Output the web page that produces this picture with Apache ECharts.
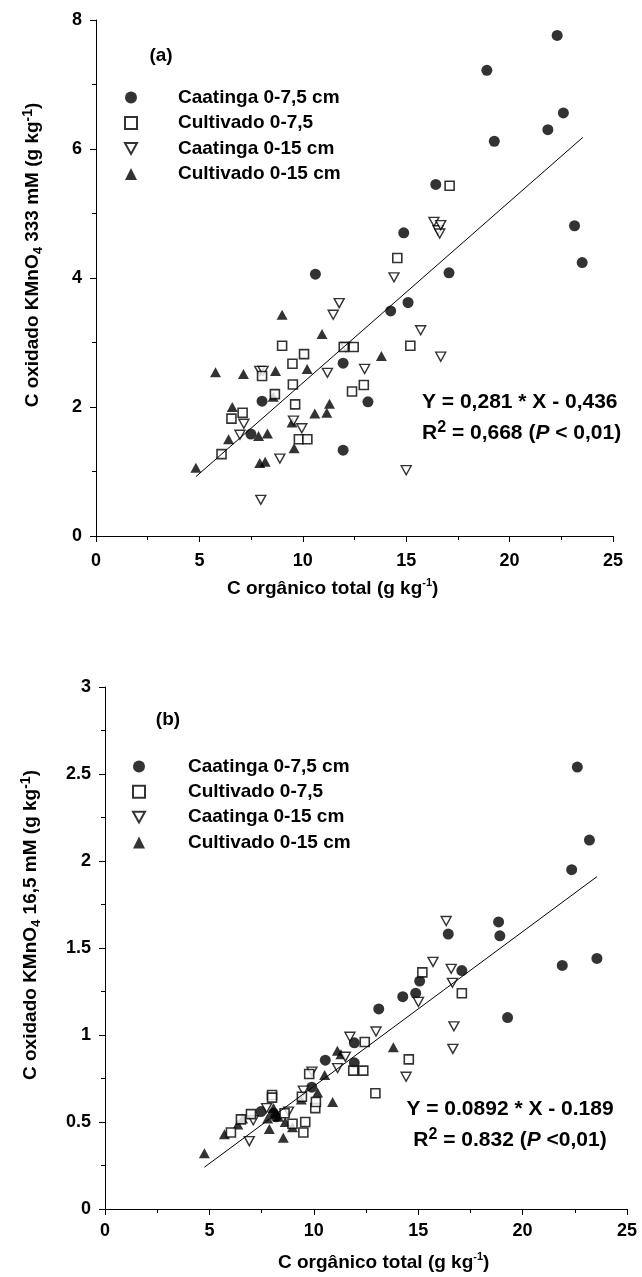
<!DOCTYPE html>
<html>
<head>
<meta charset="utf-8">
<script src="https://cdn.jsdelivr.net/npm/echarts/dist/echarts.min.js"></script>
<style>
  html, body { margin: 0; padding: 0; background: #fff; }
  #main { width: 642px; height: 1277px; }
</style>
</head>
<body>
<div id="main"></div>
<script>
const FONT = '"Liberation Sans", Arial, sans-serif'

const seriesNames = ['Caatinga 0-7,5 cm', 'Cultivado 0-7,5', 'Caatinga 0-15 cm', 'Cultivado 0-15 cm']

// (a) KMnO4 333 mM  -  [C orgânico, C oxidado]
const caatinga75A = [[7.49, 1.58], [8.03, 2.09], [10.61, 4.06], [11.95, 2.68], [11.95, 1.33], [13.15, 2.08],
  [14.25, 3.49], [14.88, 4.70], [15.09, 3.62], [16.43, 5.45], [17.07, 4.08], [18.9, 7.22], [19.26, 6.12],
  [21.85, 6.30], [22.3, 7.76], [22.6, 6.56], [23.14, 4.81], [23.51, 4.24]]
const cultivado75A = [[6.07, 1.27], [6.55, 1.82], [7.09, 1.91], [8.03, 2.48], [8.65, 2.20], [9.0, 2.95],
  [9.50, 2.67], [9.52, 2.35], [9.63, 2.04], [10.06, 2.82], [9.81, 1.50], [10.22, 1.50], [11.98, 2.93],
  [12.46, 2.93], [12.38, 2.24], [12.95, 2.34], [14.57, 4.31], [15.2, 2.95], [17.1, 5.43]]
const caatinga15A = [[6.96, 1.57], [7.15, 1.74], [7.92, 2.56], [8.08, 2.56], [7.97, 0.56], [8.89, 1.20],
  [9.55, 1.79], [9.95, 1.67], [11.19, 2.53], [11.47, 3.43], [11.76, 3.61], [12.08, 2.93], [12.99, 2.59],
  [14.41, 4.01], [15.0, 1.02], [15.70, 3.19], [16.34, 4.87], [16.54, 4.74], [16.62, 4.69], [16.67, 4.82],
  [16.67, 2.78]]
const cultivado15A = [[4.83, 1.06], [5.78, 2.54], [6.41, 1.50], [6.59, 2.00], [7.13, 2.51], [7.86, 1.55],
  [7.92, 1.13], [8.18, 1.15], [8.29, 1.59], [8.57, 2.16], [8.68, 2.56], [9.0, 3.43], [9.48, 1.76],
  [9.58, 1.36], [10.21, 2.59], [10.58, 1.90], [10.93, 3.13], [11.16, 1.91], [11.29, 2.05], [13.8, 2.79]]
const fitA = [[4.83, 0.92], [23.54, 6.18]]

// (b) KMnO4 16,5 mM
const caatinga75B = [[7.47, 0.56], [8.07, 0.55], [8.19, 0.53], [9.9, 0.70], [10.55, 0.855], [11.94, 0.84],
  [11.94, 0.955], [13.11, 1.15], [14.26, 1.22], [14.88, 1.24], [15.07, 1.31], [16.44, 1.58], [17.09, 1.37],
  [18.85, 1.65], [18.91, 1.57], [19.28, 1.10], [21.9, 1.40], [22.35, 1.95], [22.62, 2.54], [23.2, 2.12],
  [23.56, 1.44]]
const cultivado75B = [[6.03, 0.44], [6.51, 0.515], [6.99, 0.545], [8.0, 0.655], [8.0, 0.64], [8.6, 0.55],
  [8.98, 0.49], [9.43, 0.645], [9.5, 0.44], [9.59, 0.50], [9.78, 0.776], [10.07, 0.58], [10.1, 0.615],
  [11.89, 0.795], [12.37, 0.795], [12.44, 0.96], [12.95, 0.665], [14.55, 0.86], [15.2, 1.36], [17.09, 1.24]]
const caatinga15B = [[6.91, 0.39], [7.10, 0.51], [7.74, 0.58], [8.79, 0.56], [9.5, 0.68], [9.91, 0.79],
  [11.14, 0.81], [11.51, 0.875], [11.73, 0.99], [12.98, 1.02], [14.42, 0.76], [15.01, 1.19], [15.71, 1.42],
  [16.34, 1.655], [16.58, 1.38], [16.64, 1.30], [16.66, 0.92], [16.71, 1.05]]
const cultivado15B = [[4.76, 0.32], [5.72, 0.43], [6.36, 0.485], [6.59, 0.52], [7.79, 0.52], [7.87, 0.46],
  [8.07, 0.58], [8.3, 0.53], [8.54, 0.41], [8.63, 0.50], [8.98, 0.47], [9.4, 0.63], [10.18, 0.67],
  [10.52, 0.77], [10.9, 0.615], [11.13, 0.91], [11.3, 0.89], [13.81, 0.93]]
const fitB = [[4.76, 0.24], [23.56, 1.91]]

const xTicks = [0, 5, 10, 15, 20, 25]
const xTickLabels = ['0', '5', '10', '15', '20', '25']
const yTicksA = [0, 2, 4, 6, 8]
const yTickLabelsA = ['0', '2', '4', '6', '8']
const yTicksB = [0, 0.5, 1, 1.5, 2, 2.5, 3]
const yTickLabelsB = ['0', '0.5', '1', '1.5', '2', '2.5', '3']

const invTriangle = 'path://M0,0L10,0L5,9Z'

function valueAxis(gridIndex, ticks, labels, margin) {
  return {
    type: 'value',
    gridIndex: gridIndex,
    min: ticks[0],
    max: ticks[ticks.length - 1],
    interval: ticks[1] - ticks[0],
    axisLine: { show: true, lineStyle: { color: '#000', width: 1 } },
    axisTick: { show: true, length: 6, lineStyle: { color: '#000' } },
    minorTick: { show: true, splitNumber: 2, length: 4, lineStyle: { color: '#000' } },
    splitLine: { show: false },
    axisLabel: {
      color: '#000', fontFamily: FONT, fontWeight: 'bold', fontSize: 18, margin: margin,
      formatter: function (v) {
        const i = ticks.findIndex(t => Math.abs(t - v) < 1e-9)
        return i >= 0 ? labels[i] : ''
      }
    }
  }
}

function scatterSet(idx, c75, v75, c15, v15, fit) {
  return [
    { name: seriesNames[0], type: 'scatter', xAxisIndex: idx, yAxisIndex: idx, data: c75,
      symbol: 'circle', symbolSize: 11, itemStyle: { color: '#000' } },
    { name: seriesNames[3], type: 'scatter', xAxisIndex: idx, yAxisIndex: idx, data: v15,
      symbol: 'triangle', symbolSize: [11, 10], itemStyle: { color: '#000' } },
    { name: seriesNames[2], type: 'scatter', xAxisIndex: idx, yAxisIndex: idx, data: c15,
      symbol: invTriangle, symbolSize: [10, 9], itemStyle: { color: '#fff', borderColor: '#000', borderWidth: 1.4 } },
    { name: seriesNames[1], type: 'scatter', xAxisIndex: idx, yAxisIndex: idx, data: v75,
      symbol: 'rect', symbolSize: 9, itemStyle: { color: '#fff', borderColor: '#000', borderWidth: 1.6 } },
    { name: 'fit', type: 'line', xAxisIndex: idx, yAxisIndex: idx, data: fit, showSymbol: false,
      lineStyle: { color: '#000', width: 1 } }
  ]
}

function legendBlock(left, top, gap, pad) {
  return {
    orient: 'vertical', left: left, top: top, padding: 0, itemGap: gap,
    itemWidth: 12, itemHeight: 12, selectedMode: false,
    data: [seriesNames[0], seriesNames[1], seriesNames[2], seriesNames[3]],
    textStyle: { color: '#000', fontFamily: FONT, fontWeight: 'bold', fontSize: 19, lineHeight: 19,
      padding: [0, 0, 0, pad] }
  }
}

const base = { fontFamily: FONT, fontWeight: 'bold', fill: '#000' }
const richTitle = {
  a: { fontFamily: FONT, fontWeight: 'bold', fontSize: 19, lineHeight: 24 },
  sub: { fontFamily: FONT, fontWeight: 'bold', fontSize: 13, lineHeight: 13, verticalAlign: 'bottom' },
  sup: { fontFamily: FONT, fontWeight: 'bold', fontSize: 14, lineHeight: 14, verticalAlign: 'top' },
  s: { fontFamily: FONT, fontWeight: 'bold', fontSize: 11, lineHeight: 11, verticalAlign: 'top' }
}
const richEq = {
  a: { fontFamily: FONT, fontWeight: 'bold', fontSize: 21, lineHeight: 26 },
  sup: { fontFamily: FONT, fontWeight: 'bold', fontSize: 16, lineHeight: 16, verticalAlign: 'top' },
  i: { fontFamily: FONT, fontWeight: 'bold', fontStyle: 'italic', fontSize: 21, lineHeight: 26 }
}

function label(x, y, text, rich, align, rotation) {
  return {
    type: 'text', x: x, y: y, rotation: rotation || 0,
    style: Object.assign({}, base, { text: text, rich: rich, align: align, verticalAlign: 'middle' })
  }
}

const option = {
  animation: false,
  backgroundColor: '#fff',
  grid: [
    { left: 96, top: 20, width: 517, height: 516 },
    { left: 105, top: 687, width: 522, height: 522 }
  ],
  xAxis: [valueAxis(0, xTicks, xTickLabels, 16), valueAxis(1, xTicks, xTickLabels, 13)],
  yAxis: [valueAxis(0, yTicksA, yTickLabelsA, 14), valueAxis(1, yTicksB, yTickLabelsB, 14)],
  legend: [legendBlock(124, 88, 6.5, 36), legendBlock(132, 757, 6.3, 38)],
  series: scatterSet(0, caatinga75A, cultivado75A, caatinga15A, cultivado15A, fitA)
    .concat(scatterSet(1, caatinga75B, cultivado75B, caatinga15B, cultivado15B, fitB)),
  graphic: [
    label(161, 56, '{a|(a)}', richTitle, 'center'),
    label(168, 720, '{a|(b)}', richTitle, 'center'),
    label(33, 255, '{a|C oxidado KMnO}{sub|4}{a| 333 mM (g kg}{sup|-1}{a|)}', richTitle, 'center', Math.PI / 2),
    label(31, 925, '{a|C oxidado KMnO}{sub|4}{a| 16,5 mM (g kg}{sup|-1}{a|)}', richTitle, 'center', Math.PI / 2),
    label(227, 589, '{a|C orgânico total (g kg}{s|-1}{a|)}', richTitle, 'left'),
    label(278, 1263, '{a|C orgânico total (g kg}{s|-1}{a|)}', richTitle, 'left'),
    label(422, 402, '{a|Y = 0,281 * X - 0,436}', richEq, 'left'),
    label(422, 433, '{a|R}{sup|2}{a| = 0,668 (}{i|P}{a| < 0,01)}', richEq, 'left'),
    label(510, 1109, '{a|Y = 0.0892 * X - 0.189}', richEq, 'center'),
    label(510, 1140, '{a|R}{sup|2}{a| = 0.832 (}{i|P}{a| <0,01)}', richEq, 'center')
  ]
}

const chart = echarts.init(document.getElementById('main'))
chart.setOption(option)
</script>
</body>
</html>
